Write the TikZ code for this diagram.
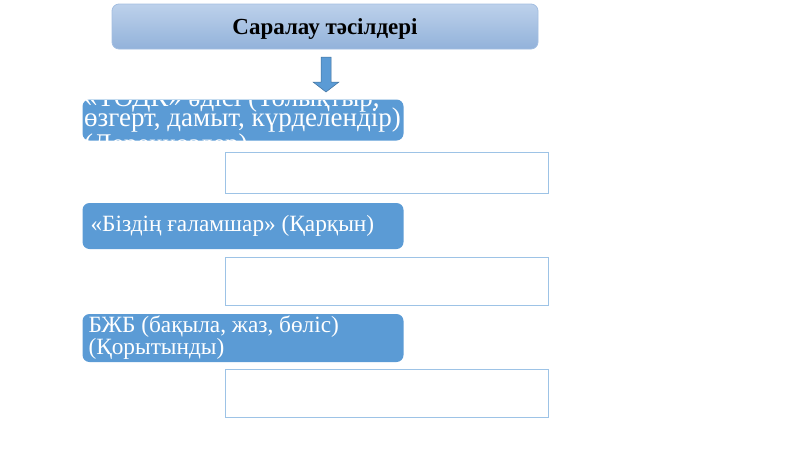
\documentclass[tikz,border=0pt]{standalone}
\usepackage{fontspec}
\setmainfont{Liberation Serif}
\definecolor{accent}{HTML}{5B9BD5}
\definecolor{accentdark}{HTML}{41719C}
\definecolor{ltop}{HTML}{BDD1EB}
\definecolor{lbot}{HTML}{92B2DA}
\definecolor{lborder}{HTML}{A3BEE1}
\definecolor{rborder}{HTML}{9DC3E6}
\newcommand{\tightlines}{\lineskiplimit=-100pt\relax\lineskip=0pt\relax}
\begin{document}
\begin{tikzpicture}[x=1pt,y=-1pt,
  titlebox/.style={rectangle, rounded corners=7pt, top color=ltop, bottom color=lbot,
    draw=lborder, line width=0.8pt, minimum width=426pt, minimum height=45pt},
  titletext/.style={inner sep=0pt, font=\fontsize{23}{26}\selectfont\bfseries, text=black},
  itembox/.style={rectangle, rounded corners=7pt, fill=accent, draw=none,
    minimum width=321pt, inner sep=0pt},
  itemtext/.style={anchor=west, align=left, text=white, inner sep=0pt,
    font=\fontsize{23.3}{22}\selectfont},
  emptybox/.style={rectangle, fill=white, draw=rborder, line width=0.9pt,
    minimum width=323pt},
  downarrow/.style={fill=accent, draw=accentdark, line width=0.5pt}
]
\useasboundingbox (0,0) rectangle (800,450);

\node[titlebox] (title) at (325,26.5) {};
\node[titletext] (tt) at ([yshift=-3pt]title.center) {Саралау тәсілдері};

\node[itembox, minimum height=41pt] (b1) at (243,120) {};
\node[itembox, minimum height=46pt] (b2) at (243,226) {};
\node[itembox, minimum height=48pt] (b3) at (243,338) {};

\node[emptybox, minimum height=41pt] (r1) at (386.5,172.5) {};
\node[emptybox, minimum height=48pt] (r2) at (386.5,281.5) {};
\node[emptybox, minimum height=48pt] (r3) at (386.5,393) {};

\begin{scope}
\clip[rounded corners=7pt] (b1.south west) rectangle (b1.north east);
\node[itemtext, font=\fontsize{27}{20}\selectfont\tightlines] (t1) at (84,123.5)
  {«ТОДК» әдісі (Толықтыр,\\өзгерт, дамыт, күрделендір)\\[6pt](Дереккөздер)};
\end{scope}
\node[itemtext] (t2) at ([xshift=8pt]b2.west) {«Біздің ғаламшар» (Қарқын)};
\node[itemtext] (t3) at ([xshift=6pt]b3.west) {БЖБ (бақыла, жаз, бөліс)\\(Қорытынды)};

\coordinate (atop) at (326,57);
\draw[downarrow] (atop) ++(-5,0) -- ++(0,25) -- ++(-8,0) -- (326,92) -- (339,82) -- ++(-8,0) -- ++(0,-25) -- cycle;
\end{tikzpicture}
\end{document}
